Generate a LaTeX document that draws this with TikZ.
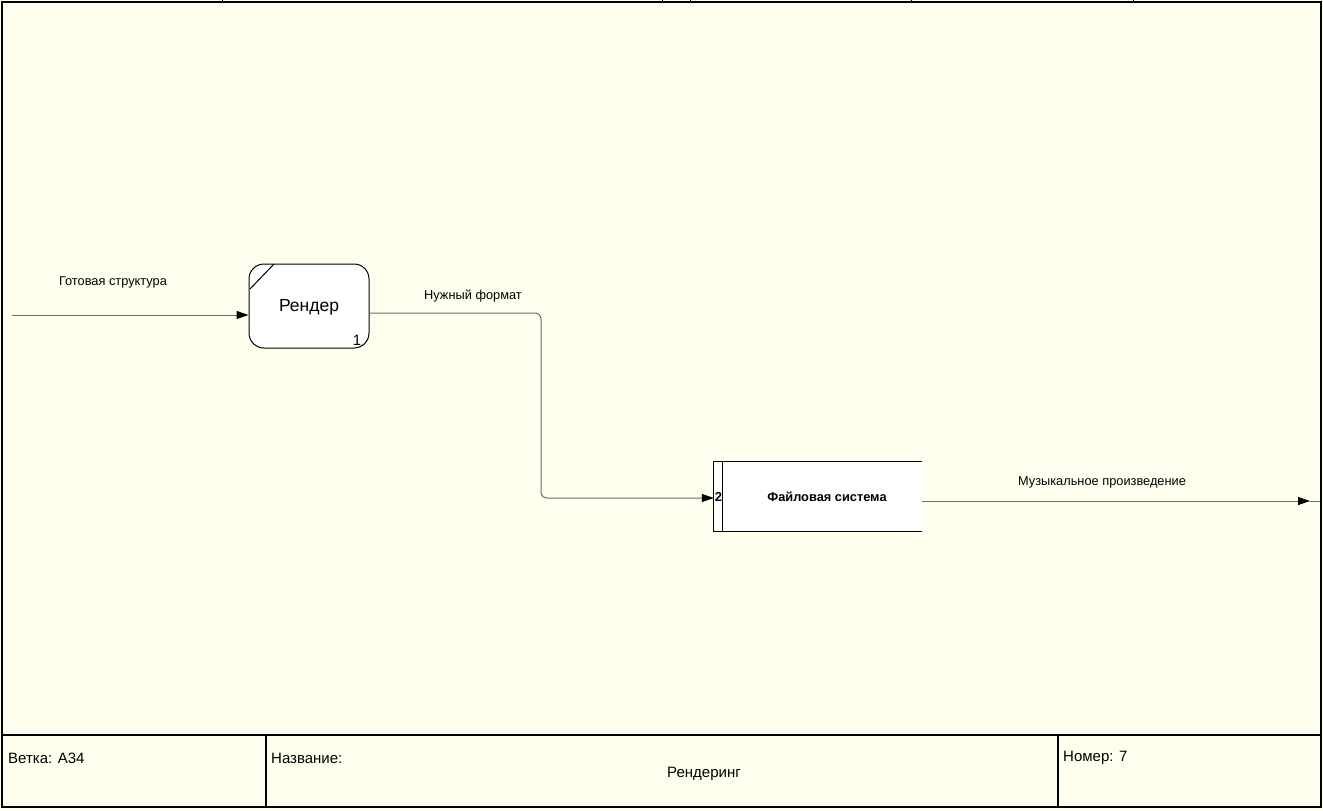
\documentclass[tikz,border=0pt]{standalone}
\usepackage{fontspec}
\setmainfont{Liberation Sans}
\usetikzlibrary{arrows.meta}
\definecolor{bgyel}{RGB}{255,255,238}
\definecolor{conn}{RGB}{110,110,110}
\tikzset{
  flowline/.style={draw=conn, line width=1pt},
  tip/.style={-{Triangle[length=12pt,width=8pt,color=black]}},
  flowlabel/.style={font=\fontsize{12.8}{14}\selectfont, inner sep=0pt},
  blocklabel/.style={font=\fontsize{15}{17}\selectfont, inner sep=0pt, anchor=west},
  framebox/.style={draw=black, line width=1.6pt},
}
\begin{document}
\begin{tikzpicture}[x=1pt,y=-1pt]
\useasboundingbox (0,0) rectangle (1323,811);
\fill[bgyel] (0,0) rectangle (1323,811);
% frame
\draw[framebox] (2,2) rectangle (1321,807);
\foreach \t in {222,662,690,911,1133} \draw[line width=1pt] (\t,0) -- (\t,2);
\draw[line width=1.2pt] (2,735) -- (1321,735);
\draw[line width=1.2pt] (266,735) -- (266,807);
\draw[line width=1.2pt] (1058,735) -- (1058,807);
\node[blocklabel] (branch) at (8,758) {Ветка: А34};
\node[blocklabel] (name) at (271,758) {Название:};
\node[blocklabel] (num) at (1063,758) {Номер: 7};
\node[font=\fontsize{15}{17}\selectfont, inner sep=0pt] (title) at (704,774) {Рендеринг};
% process
\node[draw=black, line width=1pt, fill=white, rounded corners=15pt, minimum width=120pt, minimum height=84pt, inner sep=0pt] (render) at (309,306) {};
\node[font=\fontsize{17.5}{19}\selectfont, inner sep=0pt] (rtext) at (309,307) {Рендер};
\node[font=\fontsize{15}{16}\selectfont, inner sep=0pt] (rnum) at (357,340) {1};
\draw[line width=1pt] (250,289) -- (274,264);
% data store
\node[fill=white, minimum width=208pt, minimum height=69pt, inner sep=0pt] (store) at (818,496.5) {};
\draw[line width=1pt] (store.north east) -- (store.north west) -- (store.south west) -- (store.south east);
\draw[line width=1pt] ([xshift=9pt]store.north west) -- ([xshift=9pt]store.south west);
\node[font=\bfseries\fontsize{12.8}{14}\selectfont, inner sep=0pt] (stext) at (827,497) {Файловая система};
\node[font=\bfseries\fontsize{13}{14}\selectfont, inner sep=0pt] (snum) at (718.5,497) {2};
% connectors
\coordinate (src) at (12,315);
\draw[flowline, tip] (src) -- (src -| render.west);
\node[flowlabel] (l1) at (113,282) {Готовая структура};
\draw[flowline, tip, rounded corners=6pt] (render.east |- 0,313) -- (541,313) -- (541,498) -- (store.west |- 0,498);
\node[flowlabel] (l2) at (473,296) {Нужный формат};
\coordinate (out) at (1310,501);
\draw[flowline, tip] (store.east |- out) -- (out);
\draw[flowline] (out) -- (1320,501);
\node[flowlabel] (l3) at (1102,482) {Музыкальное произведение};
\end{tikzpicture}
\end{document}
